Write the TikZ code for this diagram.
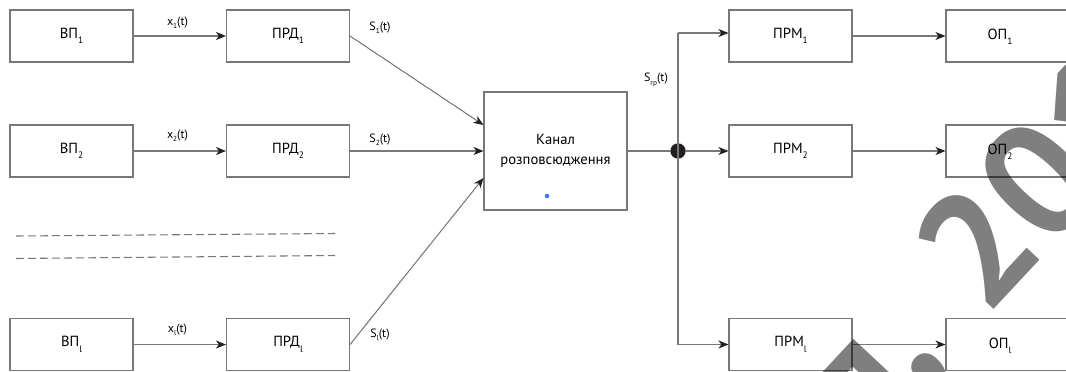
\documentclass[tikz,border=0pt]{standalone}
\usepackage{fontspec}
\setmainfont{PT Sans}
\usetikzlibrary{arrows.meta}
\definecolor{linegray}{RGB}{120,120,120}
\definecolor{tipblack}{RGB}{35,31,32}
\definecolor{markblue}{RGB}{70,120,255}
% subscripts for block names and for signal labels
\newcommand{\bsub}[1]{\raisebox{-4pt}{\fontsize{7}{7}\selectfont #1}}
\newcommand{\lsub}[1]{\raisebox{-2.5pt}{\fontsize{5.5}{5.5}\selectfont #1}}
\begin{document}
\begin{tikzpicture}[x=0.75pt,y=-0.75pt,
  blk/.style={draw=linegray, line width=0.8pt, minimum width=92.25pt, minimum height=39pt,
    inner sep=0pt, font=\fontsize{11}{12}\selectfont},
  conn/.style={draw=linegray, line width=0.8pt},
  arr/.style={conn, -{Stealth[length=7.5pt,width=6pt,inset=2.2pt,color=tipblack]}},
  sig/.style={font=\fontsize{9}{10}\selectfont, inner sep=0pt},
  boxtext/.style={font=\fontsize{11}{12}\selectfont, inner sep=0pt},
  dashrow/.style={draw=linegray, line width=0.8pt, dash pattern=on 6pt off 3pt},
  stamp/.style={rotate=47, inner sep=0pt, text=black, text opacity=0.5,
    font=\bfseries\fontsize{120}{120}\selectfont}]
\useasboundingbox (0,0) rectangle (1066,371);
\clip (0,0) rectangle (1066,371);

% sources
\node[blk] (vp1) at (71.5,36) {ВП\bsub{1}};
\node[blk] (vp2) at (71.5,151) {ВП\bsub{2}};
\node[blk] (vpl) at (71.5,344.5) {ВП\bsub{l}};
% transmitters
\node[blk] (prd1) at (288,36) {ПРД\bsub{1}};
\node[blk] (prd2) at (288,151) {ПРД\bsub{2}};
\node[blk] (prdl) at (288,344.5) {ПРД\bsub{l}};
% channel
\node[draw=linegray, line width=0.8pt, minimum width=107.25pt, minimum height=88.5pt,
  align=center, font=\fontsize{11}{15}\selectfont] (chan) at (555.5,151)
  {Канал\\розповсюдження};
\node[circle, fill=markblue, minimum size=3.5pt, inner sep=0pt] (bluept) at (547,196) {};
% receivers
\node[blk] (prm1) at (790.5,36) {ПРМ\bsub{1}};
\node[blk] (prm2) at (790.5,151) {ПРМ\bsub{2}};
\node[blk] (prml) at (790.5,344.5) {ПРМ\bsub{l}};
% recipients
\node[blk] (op1) at (1007.5,36) {};
\node[blk] (op2) at (1007.5,151) {};
\node[blk] (opl) at (1007.5,344.5) {};
\node[boxtext] (op1t) at (1000,37) {ОП\bsub{1}};
\node[boxtext] (op2t) at (1000,152) {ОП\bsub{2}};
\node[boxtext] (oplt) at (1000,345.5) {ОП\bsub{l}};

% branching point
\node[circle, fill=tipblack, minimum size=11.5pt, inner sep=0pt] (junc) at (678,151) {};
\coordinate (jtop) at (678,33);
\coordinate (jbot) at (678,344.5);

% source -> transmitter
\draw[arr] (vp1.east) -- (prd1.west);
\draw[arr] (vp2.east) -- (prd2.west);
\draw[arr] (vpl.east) -- (prdl.west);
% transmitters -> channel
\draw[arr] (prd1.east) -- ([yshift=19.5pt]chan.west);
\draw[arr] (prd2.east) -- (chan.west);
\draw[arr] (prdl.east) -- ([yshift=-20.25pt]chan.west);
% channel -> receivers
\draw[conn] (chan.east) -- (junc);
\draw[conn] (jtop) -- (jbot);
\draw[arr] (jtop) -- (jtop -| prm1.west);
\draw[arr] (junc) -- (prm2.west);
\draw[arr] (jbot) -- (prml.west);
% receivers -> recipients
\draw[arr] (prm1.east) -- (op1.west);
\draw[arr] (prm2.east) -- (op2.west);
\draw[arr] (prml.east) -- (opl.west);

% omitted rows
\coordinate (d1a) at (16,236);   \coordinate (d1b) at (335,233.5);
\coordinate (d2a) at (16,258.5); \coordinate (d2b) at (335,255.5);
\draw[dashrow] (d1a) -- (d1b);
\draw[dashrow] (d2a) -- (d2b);

% signal labels
\node[sig] (lx1) at (177.5,22.5) {x\lsub{1}(t)};
\node[sig] (lx2) at (177.5,135.5) {x\lsub{2}(t)};
\node[sig] (lxl) at (177.5,330) {x\lsub{l}(t)};
\node[sig] (ls1) at (380,27.5) {S\lsub{1}(t)};
\node[sig] (ls2) at (380,139.5) {S\lsub{2}(t)};
\node[sig] (lsl) at (380,335) {S\lsub{l}(t)};
\node[sig] (lsgr) at (656,80) {S\lsub{гр}(t)};

% stamp
\node[stamp, anchor=base west] (yr) at (986,318) {2019};
\node[stamp, anchor=base east] (yrpre) at (946,358) {п,};
\end{tikzpicture}
\end{document}
